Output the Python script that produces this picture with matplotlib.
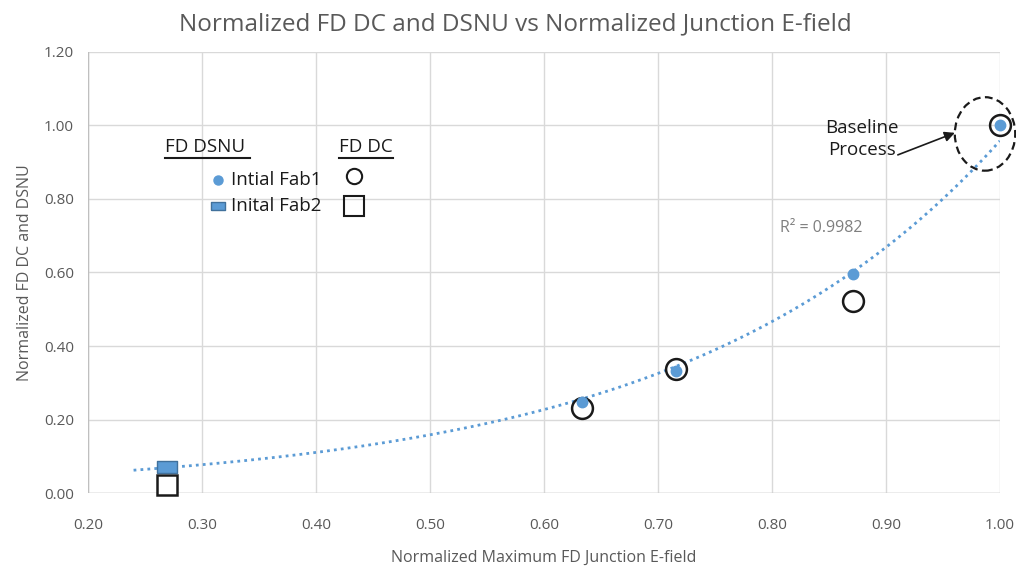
import matplotlib.pyplot as plt
import numpy as np
from matplotlib.patches import Ellipse

plt.rcParams['font.family'] = ['Open Sans', 'DejaVu Sans']

# FD DSNU, normalized
dsnu_fab1_x = [0.633, 0.716, 0.871, 1.00]
dsnu_fab1_y = [0.248, 0.333, 0.597, 1.00]
dsnu_fab2_x = [0.269]
dsnu_fab2_y = [0.071]
# FD DC, normalized
dc_fab1_x = [0.633, 0.716, 0.871, 1.00]
dc_fab1_y = [0.232, 0.338, 0.523, 1.00]
dc_fab2_x = [0.269]
dc_fab2_y = [0.022]

xticks = [0.20, 0.30, 0.40, 0.50, 0.60, 0.70, 0.80, 0.90, 1.00]
yticks = [0.00, 0.20, 0.40, 0.60, 0.80, 1.00, 1.20]

blue = '#5b9bd5'
grey = '#595959'

fig = plt.figure(figsize=(10.16, 5.68), dpi=100)
ax = fig.add_axes([0.0866, 0.132, 0.8975, 0.7765])

# exponential trendline through all DSNU points
tx = np.array(dsnu_fab1_x + dsnu_fab2_x)
ty = np.array(dsnu_fab1_y + dsnu_fab2_y)
b, lna = np.polyfit(tx, np.log(ty), 1)
xs = np.linspace(0.24, 1.0, 200)
ax.plot(xs, np.exp(lna) * np.exp(b * xs), ls=(0, (1, 1.5)), color=blue, lw=2, zorder=2)

rect = [(-1, -0.6), (1, -0.6), (1, 0.6), (-1, 0.6), (-1, -0.6)]
ax.plot(dc_fab1_x, dc_fab1_y, 'o', ms=15, mfc='none', mec='#1a1a1a', mew=1.8, zorder=3, clip_on=False)
ax.plot(dc_fab2_x, dc_fab2_y, 's', ms=15, mfc='white', mec='#1a1a1a', mew=1.8, zorder=3, clip_on=False)
ax.plot(dsnu_fab1_x, dsnu_fab1_y, 'o', ms=7.5, color=blue, zorder=4, clip_on=False)
ax.plot(dsnu_fab2_x, dsnu_fab2_y, marker=rect, ms=15, color=blue, mec='#41719c', mew=1, ls='none', zorder=4)

ax.set_xlim(0.2, 1.0)
ax.set_ylim(0, 1.2)
ax.set_xticks(xticks)
ax.set_yticks(yticks)
ax.set_xticklabels([f'{v:.2f}' for v in xticks])
ax.set_yticklabels([f'{v:.2f}' for v in yticks])
ax.tick_params(length=0, labelsize=11, colors=grey)
ax.tick_params(axis='x', pad=18)
ax.tick_params(axis='y', pad=10)
ax.grid(True, color='#d9d9d9', lw=1)
ax.set_axisbelow(True)
for s in ax.spines.values():
    s.set_visible(False)
ax.plot([0.2, 0.2], [0, 1.2], color='#bfbfbf', lw=1, zorder=1)
ax.plot([0.2, 1.0], [0, 0], color='#bfbfbf', lw=1, zorder=1)

ax.set_xlabel('Normalized Maximum FD Junction E-field', fontsize=11.5, color=grey, labelpad=12)
ax.set_ylabel('Normalized FD DC and DSNU', fontsize=11.5, color=grey, labelpad=8)
fig.text(0.507, 0.957, 'Normalized FD DC and DSNU vs Normalized Junction E-field',
         ha='center', va='center', fontsize=17.5, color=grey)

# hand-made legend
def px(x, y):
    return fig.transFigure.inverted().transform(fig.dpi_scale_trans.transform((x / 100, (568 - y) / 100)))

for label, x0, x1 in [('FD DSNU', 165, 250), ('FD DC', 339, 393)]:
    fx, fy = px(x0, 147)
    fig.text(fx, fy, label, fontsize=13.5, color='#1a1a1a', va='center', ha='left')
    ux0, uy = px(x0, 158)
    ux1, _ = px(x1, 158)
    fig.add_artist(plt.Line2D([ux0, ux1], [uy, uy], color='#1a1a1a', lw=1.5, transform=fig.transFigure))

for name, y, mk2 in [('Intial Fab1', 180, 'o'), ('Inital Fab2', 206, 's')]:
    lx, ly = px(218, y)
    tx_, ty_ = px(231, y)
    dx, dy = px(354, y - 4 if mk2 == 'o' else y)
    if mk2 == 'o':
        fig.add_artist(plt.Line2D([lx], [ly], marker='o', ms=6.5, color=blue, transform=fig.transFigure))
        fig.add_artist(plt.Line2D([dx], [dy], marker='o', ms=11, mfc='none', mec='#1a1a1a', mew=1.5, transform=fig.transFigure))
    else:
        fig.add_artist(plt.Line2D([lx], [ly], marker=rect, ms=10, color=blue, mec='#41719c', transform=fig.transFigure))
        fig.add_artist(plt.Line2D([dx], [dy], marker='s', ms=15, mfc='none', mec='#1a1a1a', mew=1.5, transform=fig.transFigure))
    fig.text(tx_, ty_, name, fontsize=13.5, color='#1a1a1a', va='center', ha='left')

# baseline callout
ax.add_patch(Ellipse((0.987, 0.977), 0.053, 0.2, fill=False, ls=(0, (3.5, 2)), lw=1.6,
                     ec='#1a1a1a', zorder=5, clip_on=False))
ax.text(0.879, 0.963, 'Baseline\nProcess', ha='center', va='center', fontsize=13.5,
        color='#1a1a1a', linespacing=1.3)
ax.annotate('', xy=(0.9605, 0.98), xytext=(0.9105, 0.92),
            arrowprops=dict(arrowstyle='-|>', color='#1a1a1a', lw=1.2, mutation_scale=15, shrinkA=0, shrinkB=0))
ax.text(0.843, 0.72, 'R² = 0.9982', fontsize=11.5, color='#7f7f7f', ha='center', va='center')

fig.savefig('out.png', dpi=100)
